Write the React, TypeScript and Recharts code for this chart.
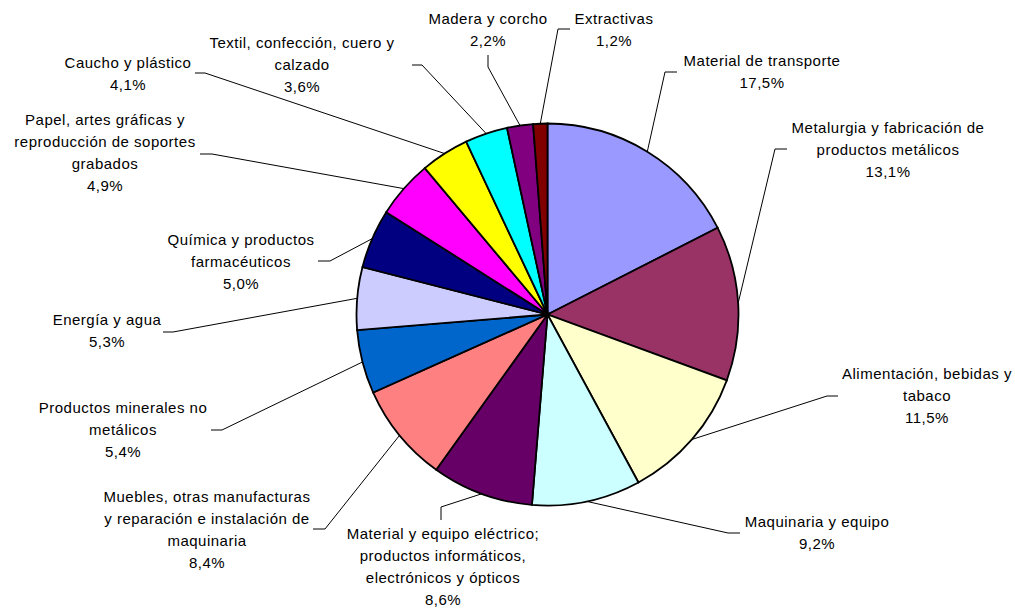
import { PieChart, Pie, Cell } from "recharts"

// valores (%) en orden de las agujas del reloj desde las 12
const categories = [
  "Material de transporte",
  "Metalurgia y fabricación de\nproductos metálicos",
  "Alimentación, bebidas y\ntabaco",
  "Maquinaria y equipo",
  "Material y equipo eléctrico;\nproductos informáticos,\nelectrónicos y ópticos",
  "Muebles, otras manufacturas\ny reparación e instalación de\nmaquinaria",
  "Productos minerales no\nmetálicos",
  "Energía y agua",
  "Química y productos\nfarmacéuticos",
  "Papel, artes gráficas y\nreproducción de soportes\ngrabados",
  "Caucho y plástico",
  "Textil, confección, cuero y\ncalzado",
  "Madera y corcho",
  "Extractivas",
]
const values = [17.5, 13.1, 11.5, 9.2, 8.6, 8.4, 5.4, 5.3, 5.0, 4.9, 4.1, 3.6, 2.2, 1.2]
const colors = [
  "#9999FF", "#993366", "#FFFFCC", "#CCFFFF", "#660066", "#FF8080", "#0066CC",
  "#CCCCFF", "#000080", "#FF00FF", "#FFFF00", "#00FFFF", "#800080", "#800000",
]

// posición de las etiquetas: centro x, y de la primera línea, codo y final de la guía
const labelPos = [
  { x: 762, y: 61, elbow: [665, 72], end: [677, 72] },
  { x: 888, y: 128, elbow: [775, 149], end: [787, 149] },
  { x: 927, y: 374, elbow: [827, 396], end: [838, 396] },
  { x: 817, y: 522, elbow: [728, 533], end: [740, 533] },
  { x: 443, y: 534, elbow: [441, 507], end: [441, 520] },
  { x: 207, y: 497, elbow: [325, 529], end: [313, 529] },
  { x: 123, y: 408, elbow: [222, 430], end: [211, 430] },
  { x: 107, y: 320, elbow: [173, 332], end: [163, 332] },
  { x: 241, y: 240, elbow: [330, 261], end: [318, 261] },
  { x: 105, y: 120, elbow: [212, 154], end: [200, 154] },
  { x: 128, y: 63, elbow: [205, 73], end: [195, 73] },
  { x: 302, y: 43, elbow: [422, 65], end: [412, 65] },
  { x: 488, y: 19, elbow: [488, 67], end: [488, 55] },
  { x: 614, y: 19, elbow: [558, 29], end: [570, 29] },
]

const data = categories.map((name, i) => ({ name, value: values[i] }))

const RADIAN = Math.PI / 180
const LINE_H = 22

function renderLabel(props: any) {
  const { cx, cy, midAngle, outerRadius, index } = props
  const pos = labelPos[index]
  const sx = cx + outerRadius * Math.cos(-midAngle * RADIAN)
  const sy = cy + outerRadius * Math.sin(-midAngle * RADIAN)
  const lines = [...categories[index].split("\n"), values[index].toFixed(1).replace(".", ",") + "%"]
  return (
    <g key={`lbl-${index}`}>
      <polyline
        points={`${sx},${sy} ${pos.elbow[0]},${pos.elbow[1]} ${pos.end[0]},${pos.end[1]}`}
        fill="none"
        stroke="#000"
        strokeWidth={1}
      />
      {lines.map((t, i) => (
        <text
          key={i}
          x={pos.x}
          y={pos.y + i * LINE_H + 5}
          textAnchor="middle"
          fill="#000"
          fontSize={15}
          letterSpacing={0.5}
          fontFamily="'Liberation Sans', Arial, sans-serif"
        >
          {t}
        </text>
      ))}
    </g>
  )
}

export default function App() {
  return (
    <div style={{ position: "absolute", left: 0, top: 0, background: "#fff" }}>
      <PieChart width={1015} height={609} margin={{ top: 0, right: 0, bottom: 0, left: 0 }}>
        <Pie
          data={data}
          dataKey="value"
          nameKey="name"
          cx={547.5}
          cy={314.5}
          outerRadius={191}
          startAngle={90}
          endAngle={-270}
          stroke="#000"
          strokeWidth={1.8}
          label={renderLabel}
          labelLine={false}
          isAnimationActive={false}
        >
          {data.map((d, i) => (
            <Cell key={d.name} fill={colors[i]} />
          ))}
        </Pie>
      </PieChart>
    </div>
  )
}
